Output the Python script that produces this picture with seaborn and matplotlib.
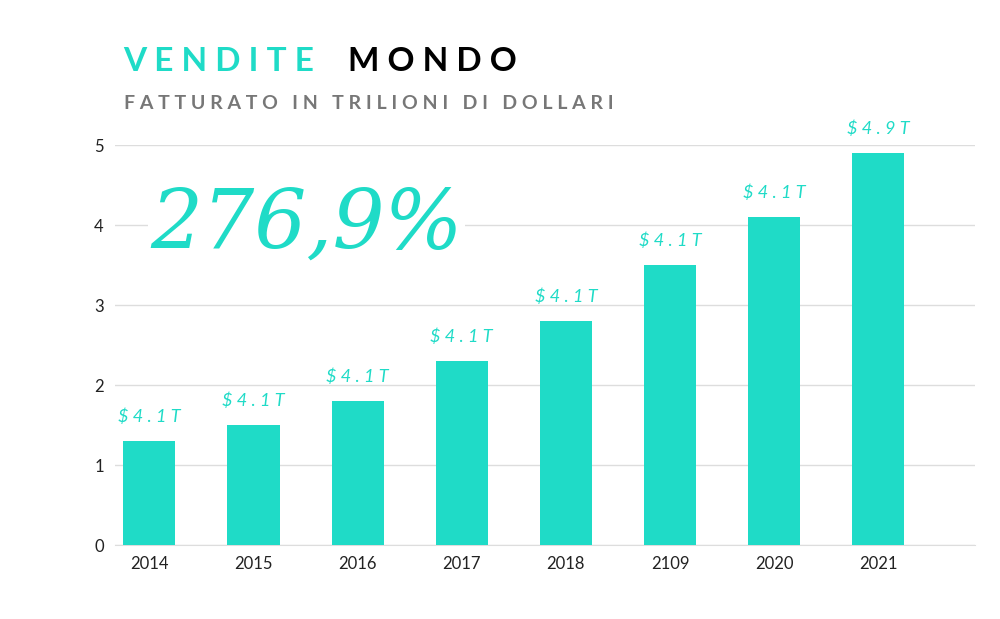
import matplotlib
matplotlib.use("Agg")
import matplotlib.pyplot as plt
import seaborn as sns
import pandas as pd

years = ["2014", "2015", "2016", "2017", "2018", "2109", "2020", "2021"]
values = [1.3, 1.5, 1.8, 2.3, 2.8, 3.5, 4.1, 4.9]
labels = ["$4.1T", "$4.1T", "$4.1T", "$4.1T", "$4.1T", "$4.1T", "$4.1T", "$4.9T"]
yticks = [0, 1, 2, 3, 4, 5]

TEAL = "#1fdbc7"
df = pd.DataFrame({"year": years, "value": values})

fig = plt.figure(figsize=(10, 6.19), dpi=100)
ax = fig.add_axes([0.115, 0.1195, 0.86, 0.646])
sns.barplot(data=df, x="year", y="value", color=TEAL, width=0.5, ax=ax, saturation=1, zorder=3)
ax.set_xlim(-0.33, 7.93)
ax.set_ylim(0, 5)
ax.set_yticks(yticks)
ax.grid(axis="y", color="#dddddd", linewidth=1, zorder=0)
for s in ["top", "right", "left"]:
    ax.spines[s].set_visible(False)
ax.spines["bottom"].set_color("#dddddd")
ax.tick_params(length=0, labelsize=12, colors="#222222", pad=8)
ax.set_xlabel(""); ax.set_ylabel("")
for lab in ax.get_xticklabels() + ax.get_yticklabels():
    lab.set_fontfamily("Lato")
for i, (v, t) in enumerate(zip(values, labels)):
    ax.text(i, v + 0.2, " ".join(t).replace("$ ", "$ "), ha="center", va="bottom", color=TEAL,
            fontsize=13, fontfamily="Lato", style="italic", zorder=4)

fig.text(0.123, 0.9, "V E N D I T E", color=TEAL, fontsize=24, fontfamily="Lato", fontweight="bold", va="center")
fig.text(0.348, 0.9, "M O N D O", color="black", fontsize=24, fontfamily="Lato", fontweight="bold", va="center")
fig.text(0.124, 0.833, "F A T T U R A T O   I N   T R I L I O N I   D I   D O L L A R I",
         color="#777777", fontsize=14, fontfamily="Lato", fontweight="bold", va="center")
fig.text(0.15, 0.635, "276,9%", color=TEAL, fontsize=59, fontfamily="DejaVu Serif", style="italic", va="center",
         bbox=dict(facecolor="white", edgecolor="none", pad=2), zorder=5)
fig.savefig("out.png", dpi=100, facecolor="white")
